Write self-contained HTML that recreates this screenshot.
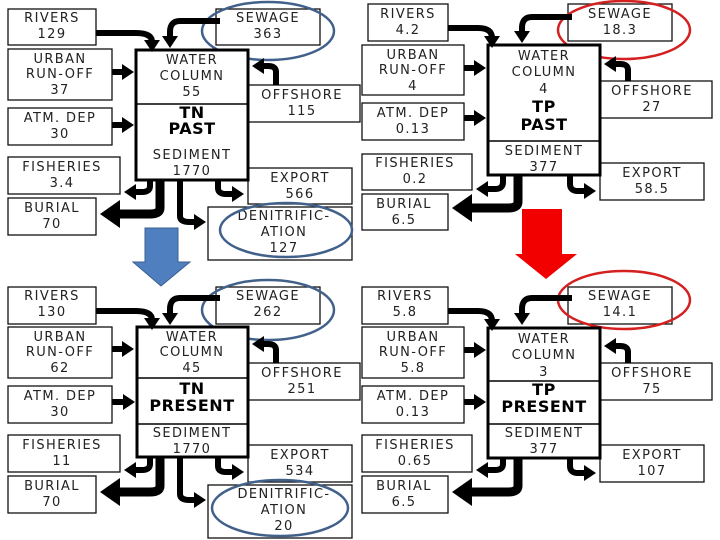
<!DOCTYPE html>
<html><head><meta charset="utf-8"><style>
html,body{margin:0;padding:0;background:#fff;}
svg{display:block}
text{font-family:"DejaVu Sans","Liberation Sans",sans-serif;font-size:13px;letter-spacing:1.4px;fill:#222;text-anchor:middle}
.b{font-weight:bold;font-size:16px;letter-spacing:0.5px;fill:#000}
.bx{fill:none;stroke:#111;stroke-width:1.3}
.m{fill:none;stroke:#000;stroke-width:3}
.a{fill:none;stroke:#000;stroke-width:6}
.A{fill:none;stroke:#000;stroke-width:9}
</style></head><body>
<svg width="720" height="540" viewBox="0 0 720 540" xmlns="http://www.w3.org/2000/svg">
<defs>
<marker id="h" markerUnits="userSpaceOnUse" markerWidth="14" markerHeight="16" refX="2" refY="8" orient="auto"><path d="M0,0 L12,8 L0,16 z" fill="#000"/></marker>
<marker id="H" markerUnits="userSpaceOnUse" markerWidth="22" markerHeight="28" refX="2" refY="14" orient="auto"><path d="M0,0 L20,14 L0,28 z" fill="#000"/></marker>
</defs>

<!-- ===== TN PAST ===== -->
<rect class="bx" x="8" y="9" width="88" height="36"/><text x="52" y="22">RIVERS</text><text x="52" y="38">129</text>
<rect class="bx" x="8" y="49" width="104" height="51"/><text x="60" y="63">URBAN</text><text x="60" y="78">RUN-OFF</text><text x="60" y="94">37</text>
<rect class="bx" x="8" y="108" width="104" height="37"/><text x="60" y="122">ATM. DEP</text><text x="60" y="138">30</text>
<rect class="bx" x="8" y="157" width="112" height="37"/><text x="62" y="171">FISHERIES</text><text x="62" y="187">3.4</text>
<rect class="bx" x="8" y="198" width="88" height="37"/><text x="52" y="212">BURIAL</text><text x="52" y="228">70</text>
<rect class="bx" x="216" y="9" width="104" height="36"/><text x="268" y="22">SEWAGE</text><text x="268" y="38">363</text>
<ellipse cx="268" cy="31" rx="66" ry="29" fill="none" stroke="#41608a" stroke-width="2.5"/>
<rect class="bx" x="248" y="85" width="112" height="37"/><text x="302" y="99">OFFSHORE</text><text x="302" y="115">115</text>
<rect class="bx" x="248" y="168" width="104" height="36"/><text x="300" y="182">EXPORT</text><text x="300" y="198">566</text>
<rect class="bx" x="208" y="207" width="144" height="53" style="fill:#fff"/><text x="284" y="220">DENITRIFIC-</text><text x="284" y="236">ATION</text><text x="284" y="252">127</text>
<ellipse cx="286" cy="230" rx="66" ry="27" fill="none" stroke="#41608a" stroke-width="2.5"/>
<rect class="m" x="136" y="50" width="112" height="130" style="fill:#fff"/>
<line x1="136" y1="104" x2="248" y2="104" stroke="#000" stroke-width="1.5"/>
<text x="192" y="64">WATER</text><text x="192" y="80">COLUMN</text><text x="192" y="96">55</text>
<text class="b" x="192" y="118">TN</text><text class="b" x="192" y="134">PAST</text>
<text x="192" y="159">SEDIMENT</text><text x="192" y="175">1770</text>
<path class="a" d="M96,33 H136 Q152,33 152,42" marker-end="url(#h)"/>
<path class="a" d="M220,21 H180 Q170,21 170,32 V38" marker-end="url(#h)"/>
<path class="a" d="M112,72 H124" marker-end="url(#h)"/>
<path class="a" d="M112,125 H124" marker-end="url(#h)"/>
<path class="a" d="M276,85 V72 Q276,66 268,66 H262" marker-end="url(#h)"/>
<path class="a" d="M150,180 V186 Q150,192 142,192 H134" marker-end="url(#h)"/>
<path class="A" d="M160,180 V208 Q160,214 150,214 H118" marker-end="url(#H)"/>
<path class="a" d="M218,180 V188 Q218,194 226,194 H234" marker-end="url(#h)"/>
<path class="a" d="M180,180 V216 Q180,222 190,222 H196" marker-end="url(#h)"/>
<path d="M145,228 H178 V262 H190 L161,286 L133,262 H145 Z" fill="#4f7fbf" stroke="#3a5f8f" stroke-width="1"/>

<!-- ===== TP PAST ===== -->
<rect class="bx" x="368" y="4" width="80" height="37"/><text x="408" y="18">RIVERS</text><text x="408" y="34">4.2</text>
<rect class="bx" x="362" y="45" width="102" height="50"/><text x="413" y="59">URBAN</text><text x="413" y="74">RUN-OFF</text><text x="413" y="90">4</text>
<rect class="bx" x="362" y="103" width="102" height="37"/><text x="413" y="117">ATM. DEP</text><text x="413" y="133">0.13</text>
<rect class="bx" x="362" y="154" width="110" height="36"/><text x="415" y="167">FISHERIES</text><text x="415" y="183">0.2</text>
<rect class="bx" x="362" y="194" width="86" height="36"/><text x="404" y="208">BURIAL</text><text x="404" y="224">6.5</text>
<rect class="bx" x="568" y="4" width="104" height="37"/><text x="620" y="18">SEWAGE</text><text x="620" y="34">18.3</text>
<ellipse cx="624" cy="30" rx="66" ry="29" fill="none" stroke="#d42020" stroke-width="2.5"/>
<rect class="bx" x="600" y="81" width="112" height="37"/><text x="652" y="95">OFFSHORE</text><text x="652" y="111">27</text>
<rect class="bx" x="600" y="163" width="104" height="37"/><text x="652" y="177">EXPORT</text><text x="652" y="193">58.5</text>
<rect class="m" x="488" y="45" width="112" height="130" style="fill:#fff"/>
<line x1="488" y1="141" x2="600" y2="141" stroke="#000" stroke-width="1.5"/>
<text x="544" y="60">WATER</text><text x="544" y="76">COLUMN</text><text x="544" y="93">4</text>
<text class="b" x="544" y="112">TP</text><text class="b" x="544" y="130">PAST</text>
<text x="544" y="155">SEDIMENT</text><text x="544" y="171">377</text>
<path class="a" d="M448,28 H478 Q492,28 492,38" marker-end="url(#h)"/>
<path class="a" d="M572,17 H532 Q522,17 522,28 V33" marker-end="url(#h)"/>
<path class="a" d="M464,68 H476" marker-end="url(#h)"/>
<path class="a" d="M464,118 H476" marker-end="url(#h)"/>
<path class="a" d="M628,81 V70 Q628,64 620,64 H614" marker-end="url(#h)"/>
<path class="a" d="M503,175 V182 Q503,189 495,189 H486" marker-end="url(#h)"/>
<path class="A" d="M518,175 V202 Q518,208 508,208 H470" marker-end="url(#H)"/>
<path class="a" d="M570,175 V184 Q570,191 578,191 H586" marker-end="url(#h)"/>
<path d="M522,209 H562 V254 H577 L546,279 L515,254 H522 Z" fill="#f20000"/>

<!-- ===== TN PRESENT ===== -->
<rect class="bx" x="8" y="287" width="88" height="37"/><text x="52" y="300">RIVERS</text><text x="52" y="316">130</text>
<rect class="bx" x="8" y="327" width="104" height="51"/><text x="60" y="341">URBAN</text><text x="60" y="356">RUN-OFF</text><text x="60" y="372">62</text>
<rect class="bx" x="8" y="386" width="104" height="37"/><text x="60" y="400">ATM. DEP</text><text x="60" y="416">30</text>
<rect class="bx" x="8" y="435" width="112" height="37"/><text x="62" y="449">FISHERIES</text><text x="62" y="465">11</text>
<rect class="bx" x="8" y="476" width="88" height="37"/><text x="52" y="490">BURIAL</text><text x="52" y="506">70</text>
<rect class="bx" x="216" y="287" width="104" height="37"/><text x="268" y="300">SEWAGE</text><text x="268" y="316">262</text>
<ellipse cx="268" cy="310" rx="66" ry="30" fill="none" stroke="#41608a" stroke-width="2.5"/>
<rect class="bx" x="248" y="363" width="112" height="37"/><text x="302" y="377">OFFSHORE</text><text x="302" y="393">251</text>
<rect class="bx" x="248" y="445" width="104" height="37"/><text x="300" y="459">EXPORT</text><text x="300" y="475">534</text>
<rect class="bx" x="208" y="485" width="144" height="53" style="fill:#fff"/><text x="284" y="498">DENITRIFIC-</text><text x="284" y="514">ATION</text><text x="284" y="530">20</text>
<ellipse cx="280" cy="508" rx="68" ry="28" fill="none" stroke="#41608a" stroke-width="2.5"/>
<rect class="m" x="137" y="327" width="111" height="130" style="fill:#fff"/>
<line x1="137" y1="378" x2="248" y2="378" stroke="#000" stroke-width="1.5"/>
<line x1="137" y1="424" x2="248" y2="424" stroke="#000" stroke-width="1.5"/>
<text x="192" y="341">WATER</text><text x="192" y="356">COLUMN</text><text x="192" y="372">45</text>
<text class="b" x="192" y="394">TN</text><text class="b" x="192" y="411">PRESENT</text>
<text x="192" y="437">SEDIMENT</text><text x="192" y="453">1770</text>
<path class="a" d="M96,311 H136 Q152,311 152,320" marker-end="url(#h)"/>
<path class="a" d="M220,298 H180 Q170,298 170,309 V315" marker-end="url(#h)"/>
<path class="a" d="M112,349 H124" marker-end="url(#h)"/>
<path class="a" d="M112,402 H125" marker-end="url(#h)"/>
<path class="a" d="M276,363 V350 Q276,344 268,344 H262" marker-end="url(#h)"/>
<path class="a" d="M150,457 V464 Q150,470 142,470 H134" marker-end="url(#h)"/>
<path class="A" d="M160,457 V486 Q160,492 150,492 H118" marker-end="url(#H)"/>
<path class="a" d="M218,457 V466 Q218,472 226,472 H234" marker-end="url(#h)"/>
<path class="a" d="M180,457 V494 Q180,500 190,500 H196" marker-end="url(#h)"/>

<!-- ===== TP PRESENT ===== -->
<rect class="bx" x="362" y="287" width="86" height="37"/><text x="405" y="300">RIVERS</text><text x="405" y="316">5.8</text>
<rect class="bx" x="362" y="327" width="102" height="51"/><text x="413" y="341">URBAN</text><text x="413" y="356">RUN-OFF</text><text x="413" y="372">5.8</text>
<rect class="bx" x="362" y="386" width="102" height="37"/><text x="413" y="400">ATM. DEP</text><text x="413" y="416">0.13</text>
<rect class="bx" x="362" y="435" width="110" height="37"/><text x="415" y="449">FISHERIES</text><text x="415" y="465">0.65</text>
<rect class="bx" x="362" y="476" width="86" height="37"/><text x="404" y="490">BURIAL</text><text x="404" y="506">6.5</text>
<rect class="bx" x="568" y="287" width="104" height="37"/><text x="620" y="300">SEWAGE</text><text x="620" y="316">14.1</text>
<ellipse cx="624" cy="300" rx="66" ry="29" fill="none" stroke="#d42020" stroke-width="2.5"/>
<rect class="bx" x="600" y="363" width="112" height="37"/><text x="652" y="377">OFFSHORE</text><text x="652" y="393">75</text>
<rect class="bx" x="600" y="445" width="104" height="37"/><text x="652" y="459">EXPORT</text><text x="652" y="475">107</text>
<rect class="m" x="488" y="328" width="112" height="130" style="fill:#fff"/>
<line x1="488" y1="381" x2="600" y2="381" stroke="#000" stroke-width="1.5"/>
<line x1="488" y1="424" x2="600" y2="424" stroke="#000" stroke-width="1.5"/>
<text x="544" y="343">WATER</text><text x="544" y="359">COLUMN</text><text x="544" y="376">3</text>
<text class="b" x="544" y="395">TP</text><text class="b" x="544" y="412">PRESENT</text>
<text x="544" y="437">SEDIMENT</text><text x="544" y="453">377</text>
<path class="a" d="M448,311 H478 Q492,311 492,321" marker-end="url(#h)"/>
<path class="a" d="M572,298 H532 Q522,298 522,309 V315" marker-end="url(#h)"/>
<path class="a" d="M464,350 H476" marker-end="url(#h)"/>
<path class="a" d="M464,402 H476" marker-end="url(#h)"/>
<path class="a" d="M628,363 V352 Q628,346 620,346 H614" marker-end="url(#h)"/>
<path class="a" d="M503,458 V464 Q503,470 495,470 H486" marker-end="url(#h)"/>
<path class="A" d="M518,458 V486 Q518,492 508,492 H470" marker-end="url(#H)"/>
<path class="a" d="M570,458 V466 Q570,473 578,473 H586" marker-end="url(#h)"/>
</svg>
</body></html>
